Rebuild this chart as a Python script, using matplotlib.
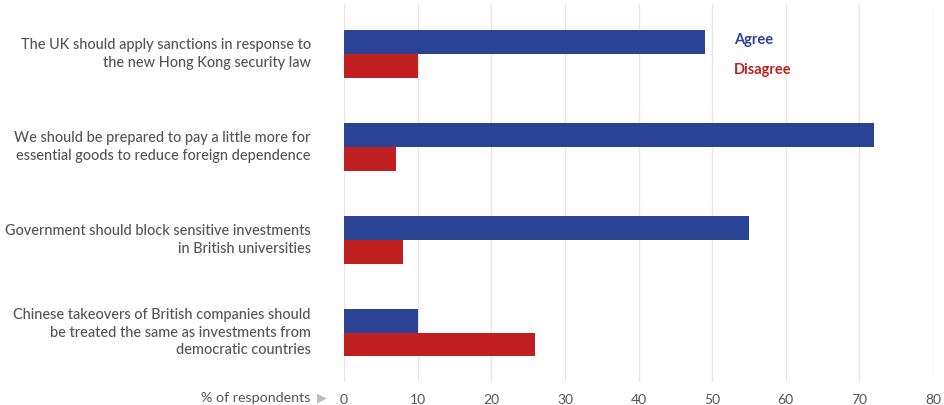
import matplotlib.pyplot as plt
import numpy as np

statements = [
    "The UK should apply sanctions in response to\nthe new Hong Kong security law",
    "We should be prepared to pay a little more for\nessential goods to reduce foreign dependence",
    "Government should block sensitive investments\nin British universities",
    "Chinese takeovers of British companies should\nbe treated the same as investments from\ndemocratic countries",
]
agree = [49, 72, 55, 10]
disagree = [10, 7, 8, 26]
xticks = [0, 10, 20, 30, 40, 50, 60, 70, 80]

blue = "#2b4394"
red = "#c01f1f"
grey = "#555555"

plt.rcParams['font.family'] = ['Lato', 'DejaVu Sans']

fig = plt.figure(figsize=(9.45, 4.06), dpi=100)
ax = fig.add_axes([344 / 945, 23 / 406, (933 - 344) / 945, 378 / 406])

y = np.arange(len(statements))
h = 0.255
ax.barh(y - h / 2, agree, height=h, color=blue, zorder=3)
ax.barh(y + h / 2, disagree, height=h, color=red, zorder=3)

ax.set_xlim(0, 80)
ax.set_ylim(3.53, -0.54)
ax.set_xticks(xticks)
ax.set_xticklabels([str(t) for t in xticks], color=grey, fontsize=10)
ax.set_yticks(y - 0.05)
ax.set_yticklabels(statements, color=grey, fontsize=10.45, fontweight='medium')
for lab in ax.get_yticklabels():
    lab.set_horizontalalignment('right')
    lab.set_multialignment('right')
    lab.set_linespacing(1.35)
ax.tick_params(axis='both', length=0)
ax.tick_params(axis='y', pad=24)
ax.tick_params(axis='x', pad=8)
ax.grid(axis='x', color='#e6e6e6', linewidth=1, zorder=0)
for s in ax.spines.values():
    s.set_visible(False)

fig.text(734 / 945, 1 - 40 / 406, "Agree", color=blue,
         fontsize=10.5, fontweight='bold', va='center', ha='left')
fig.text(734 / 945, 1 - 70 / 406, "Disagree", color=red,
         fontsize=10.5, fontweight='bold', va='center', ha='left')
fig.text(310 / 945, 1 - 398 / 406, "% of respondents",
         color=grey, fontsize=10.3, ha='right', va='center')
fig.text(322 / 945, 1 - 398 / 406, "\u25B6", color="#bdbdbd", fontsize=9,
         ha='center', va='center', family=['DejaVu Sans'])

fig.savefig("out.png", dpi=100)
